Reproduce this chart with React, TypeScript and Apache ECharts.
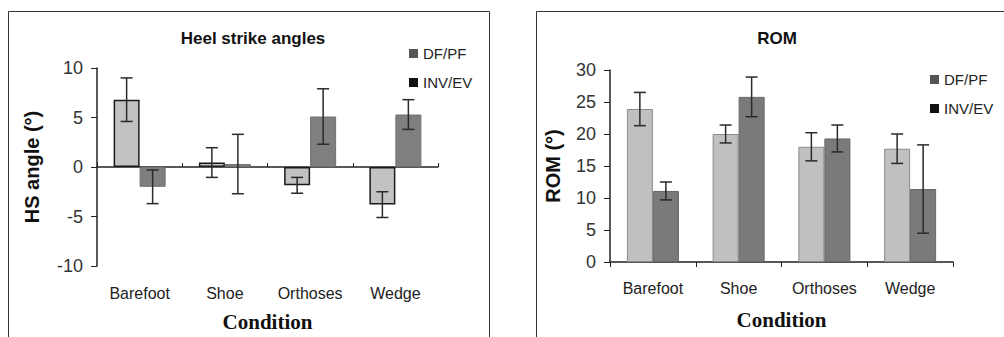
import React, { useEffect, useRef } from "react";
import * as echarts from "echarts";

const categories = ["Barefoot", "Shoe", "Orthoses", "Wedge"];
const seriesNames = ["DF/PF", "INV/EV"];

// Heel strike angles (degrees)
const hsDfpf = [6.8, 0.45, -1.85, -3.8];
const hsDfpfErr = [2.2, 1.5, 0.8, 1.3];
const hsInvev = [-2.0, 0.3, 5.1, 5.3];
const hsInvevErr = [1.7, 3.0, 2.8, 1.5];

// ROM (degrees)
const romDfpf = [23.9, 20.0, 18.0, 17.7];
const romDfpfErr = [2.6, 1.4, 2.2, 2.3];
const romInvev = [11.1, 25.8, 19.3, 11.4];
const romInvevErr = [1.4, 3.1, 2.1, 6.9];

const hsTicks = { min: -10, max: 10, interval: 5 };
const romTicks = { min: 0, max: 30, interval: 5 };

const FONT = "Liberation Sans";
const BAR_W = 26;

function errData(means: number[], errs: number[], side: number) {
  return means.map((m, i) => [i, m - errs[i], m + errs[i], side]);
}

function errorSeries(name: string, xi: number, yi: number, data: number[][]) {
  return {
    type: "custom",
    name: name + " err",
    xAxisIndex: xi,
    yAxisIndex: yi,
    z: 10,
    silent: true,
    encode: { x: 0, y: [1, 2] },
    data,
    renderItem: (params: any, api: any) => {
      const cat = api.value(0);
      const lo = api.coord([cat, api.value(1)]);
      const hi = api.coord([cat, api.value(2)]);
      const side = api.value(3);
      const x = lo[0] + side * (BAR_W / 2);
      const cap = 6;
      const style = { stroke: "#2a2a2a", lineWidth: 1.5 };
      return {
        type: "group",
        children: [
          { type: "line", shape: { x1: x, y1: lo[1], x2: x, y2: hi[1] }, style },
          { type: "line", shape: { x1: x - cap, y1: hi[1], x2: x + cap, y2: hi[1] }, style },
          { type: "line", shape: { x1: x - cap, y1: lo[1], x2: x + cap, y2: lo[1] }, style },
        ],
      };
    },
  };
}

export default function App() {
  const ref = useRef<HTMLDivElement>(null);
  useEffect(() => {
    if (!ref.current) return;
    const chart = echarts.init(ref.current, null, { renderer: "svg" });
    const axisLine = { show: true, lineStyle: { color: "#222", width: 1.5 } };
    const yLabel = { color: "#333", fontSize: 18, fontFamily: FONT };
    const catLabel = { color: "#222", fontSize: 16, fontFamily: FONT };
    const nameStyleY = { fontSize: 20, fontWeight: "bold", fontFamily: FONT, color: "#111" };
    const nameStyleX = { fontSize: 21, fontWeight: "bold", fontFamily: "Liberation Serif", color: "#111" };
    const legendCommon = {
      orient: "vertical",
      icon: "rect",
      itemWidth: 9,
      itemHeight: 9,
      itemGap: 14,
      textStyle: { fontSize: 15, fontFamily: FONT, color: "#222" },
      data: [
        { name: seriesNames[0], itemStyle: { color: "#555", borderWidth: 0 } },
        { name: seriesNames[1], itemStyle: { color: "#111", borderWidth: 0 } },
      ],
    };
    chart.setOption({
      animation: false,
      backgroundColor: "#fff",
      graphic: [
        { type: "rect", shape: { x: 8.5, y: 11.5, width: 481, height: 340 }, style: { fill: "none", stroke: "#333", lineWidth: 1 } },
        { type: "rect", shape: { x: 536.5, y: 11.5, width: 480, height: 340 }, style: { fill: "none", stroke: "#333", lineWidth: 1 } },
      ],
      title: [
        { text: "Heel strike angles", left: 248, top: 25, textAlign: "center", textStyle: { fontSize: 17, fontWeight: "bold", fontFamily: FONT, color: "#111" } },
        { text: "ROM", left: 772, top: 25, textAlign: "center", textStyle: { fontSize: 17, fontWeight: "bold", fontFamily: FONT, color: "#111" } },
      ],
      legend: [
        { ...legendCommon, left: 404, top: 41 },
        { ...legendCommon, left: 925, top: 67 },
      ],
      grid: [
        { left: 97, top: 68, right: 566, bottom: 71 },
        { left: 610, top: 70, right: 51, bottom: 75 },
      ],
      xAxis: [
        {
          gridIndex: 0, type: "category", data: categories,
          axisLine: { show: false, onZero: false }, axisTick: { show: false },
          axisLabel: { ...catLabel, margin: 19 },
          name: "Condition", nameLocation: "middle", nameGap: 45, nameTextStyle: nameStyleX,
        },
        {
          gridIndex: 0, type: "category", data: categories,
          axisLine: { ...axisLine, onZero: true }, axisTick: { show: true, length: 4, lineStyle: { color: "#222" } },
          axisLabel: { show: false },
        },
        {
          gridIndex: 1, type: "category", data: categories,
          axisLine, axisTick: { show: true, length: 5, lineStyle: { color: "#222" } },
          axisLabel: { ...catLabel, margin: 18 },
          name: "Condition", nameLocation: "middle", nameGap: 47, nameTextStyle: nameStyleX,
        },
      ],
      yAxis: [
        {
          gridIndex: 0, type: "value", ...hsTicks,
          axisLine, axisTick: { show: true, length: 6, lineStyle: { color: "#222" } },
          splitLine: { show: false }, axisLabel: { ...yLabel, margin: 14 },
          name: "HS angle (°)", nameLocation: "middle", nameGap: 55, nameRotate: 90, nameTextStyle: nameStyleY,
        },
        {
          gridIndex: 1, type: "value", ...romTicks,
          axisLine, axisTick: { show: true, length: 6, lineStyle: { color: "#222" } },
          splitLine: { show: false }, axisLabel: { ...yLabel, margin: 14 },
          name: "ROM (°)", nameLocation: "middle", nameGap: 47, nameRotate: 90, nameTextStyle: nameStyleY,
        },
      ],
      series: [
        {
          type: "bar", name: seriesNames[0], xAxisIndex: 0, yAxisIndex: 0, data: hsDfpf,
          barWidth: BAR_W, barGap: "0%",
          itemStyle: { color: "#c2c2c2", borderColor: "#1a1a1a", borderWidth: 1.5 },
        },
        {
          type: "bar", name: seriesNames[1], xAxisIndex: 0, yAxisIndex: 0, data: hsInvev,
          barWidth: BAR_W, barGap: "0%",
          itemStyle: { color: "#7f7f7f", borderColor: "#707070", borderWidth: 1 },
        },
        errorSeries("hs-dfpf", 0, 0, errData(hsDfpf, hsDfpfErr, -1)),
        errorSeries("hs-invev", 0, 0, errData(hsInvev, hsInvevErr, 1)),
        {
          type: "bar", name: seriesNames[0], xAxisIndex: 2, yAxisIndex: 1, data: romDfpf,
          barWidth: BAR_W, barGap: "0%",
          itemStyle: { color: "#c0c0c0", borderColor: "#8a8a8a", borderWidth: 1 },
        },
        {
          type: "bar", name: seriesNames[1], xAxisIndex: 2, yAxisIndex: 1, data: romInvev,
          barWidth: BAR_W, barGap: "0%",
          itemStyle: { color: "#7a7a7a", borderColor: "#666", borderWidth: 1 },
        },
        errorSeries("rom-dfpf", 2, 1, errData(romDfpf, romDfpfErr, -1)),
        errorSeries("rom-invev", 2, 1, errData(romInvev, romInvevErr, 1)),
      ],
    });
    return () => chart.dispose();
  }, []);
  return (
    <div
      ref={ref}
      style={{ position: "absolute", left: 0, top: 0, width: 1004, height: 337, background: "#fff" }}
    />
  );
}
